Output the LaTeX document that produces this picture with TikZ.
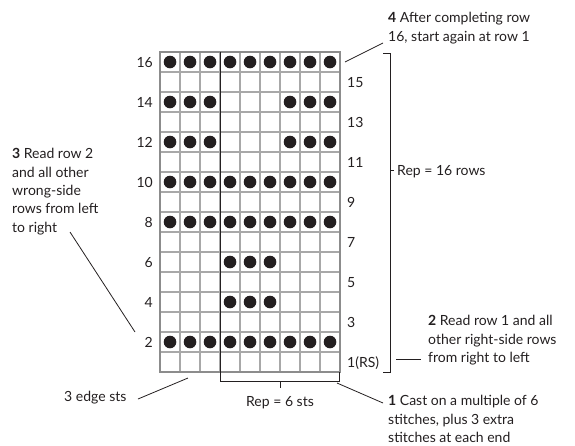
\documentclass[tikz,border=0pt]{standalone}
\usepackage{fontspec}
\setmainfont{Lato}
\definecolor{ink}{HTML}{231F20}
\definecolor{gridc}{HTML}{A8A8A8}
\definecolor{framec}{HTML}{8C8C8C}
\begin{document}
\begin{tikzpicture}[x=1pt,y=-1pt,
  lbl/.style={font=\fontsize{14}{18.3}\selectfont, inner sep=0pt, text=ink},
  note/.style={lbl, align=left},
  gridline/.style={draw=gridc, line width=1.1pt},
  frameline/.style={draw=framec, line width=1.2pt},
  bracketline/.style={draw=ink, line width=1pt},
  leader/.style={draw=ink, line width=0.8pt},
  dot/.style={circle, fill=ink, minimum size=12.6pt, inner sep=0pt}]
\useasboundingbox (0,0) rectangle (575,445);
% grid
\foreach \i in {1,...,8} \draw[gridline] (160+20*\i,52) -- (160+20*\i,372);
\foreach \j in {1,...,15} \draw[gridline] (160,52+20*\j) -- (340,52+20*\j);
\draw[frameline] (160,52) rectangle (340,372);
% dots
\foreach \r/\cl in {2/{1,2,3,4,5,6,7,8,9},4/{4,5,6},6/{4,5,6},8/{1,2,3,4,5,6,7,8,9},10/{1,2,3,4,5,6,7,8,9},12/{1,2,3,7,8,9},14/{1,2,3,7,8,9},16/{1,2,3,4,5,6,7,8,9}}
  \foreach \c in \cl \node[dot] (d\r-\c) at (150+20*\c, 382-20*\r) {};
% repeat line and bottom bracket
\coordinate (bt1) at (220,52);
\coordinate (bb1) at (220,381);
\coordinate (bb2) at (339,381);
\coordinate (bt2) at (339,372);
\coordinate (bm1) at (280,381);
\coordinate (bm2) at (280,388);
\draw[bracketline] (bt1) -- (bb1) -- (bb2) -- (bt2);
\draw[bracketline] (bm1) -- (bm2);
% right bracket
\coordinate (rt1) at (383,53);
\coordinate (rt2) at (390,53);
\coordinate (rb2) at (390,372);
\coordinate (rb1) at (383,372);
\coordinate (rm1) at (390,170);
\coordinate (rm2) at (394,170);
\draw[bracketline] (rt1) -- (rt2) -- (rb2) -- (rb1);
\draw[bracketline] (rm1) -- (rm2);
% row labels
\foreach \r in {2,4,...,16} \node[lbl, anchor=base east] (rl\r) at (153, 387-20*\r) {\r};
\foreach \r in {3,5,...,15} \node[lbl, anchor=base west] (rl\r) at (347, 387-20*\r) {\r};
\node[lbl, anchor=base west] (rl1) at (347, 367) {1(RS)};
% texts (base anchor = baseline of the last line)
\node[note, anchor=base west] (n3) at (12,232) {\textbf{3} Read row 2\\and all other\\wrong-side\\rows from left\\to right};
\node[note, anchor=base west] (n4) at (388,41) {\textbf{4} After completing row\\16, start again at row 1};
\node[note, anchor=base west] (n2) at (428,362.5) {\textbf{2} Read row 1 and all\\other right-side rows\\from right to left};
\node[note, anchor=base west] (n1) at (388,442.5) {\textbf{1} Cast on a multiple of 6\\stitches, plus 3 extra\\stitches at each end};
\node[lbl, anchor=base west] (edge) at (64,401) {3 edge sts};
\node[lbl, anchor=base] (rep6) at (280,406) {Rep = 6 sts};
\node[lbl, anchor=base west] (rep16) at (397,175) {Rep = 16 rows};
% leaders
\coordinate (l3a) at (70,232);
\coordinate (l3b) at (135,332);
\draw[leader] (l3a) -- (l3b);
\coordinate (l4a) at (345,62);
\coordinate (l4b) at (383,43);
\draw[leader] (l4a) -- (l4b);
\coordinate (l2a) at (396,359);
\coordinate (l2b) at (421,359);
\draw[leader] (l2a) -- (l2b);
\coordinate (l1a) at (337,383);
\coordinate (l1b) at (383,403);
\draw[leader] (l1a) -- (l1b);
\coordinate (lea) at (138,399);
\coordinate (leb) at (188,378);
\draw[leader] (lea) -- (leb);
\end{tikzpicture}
\end{document}
